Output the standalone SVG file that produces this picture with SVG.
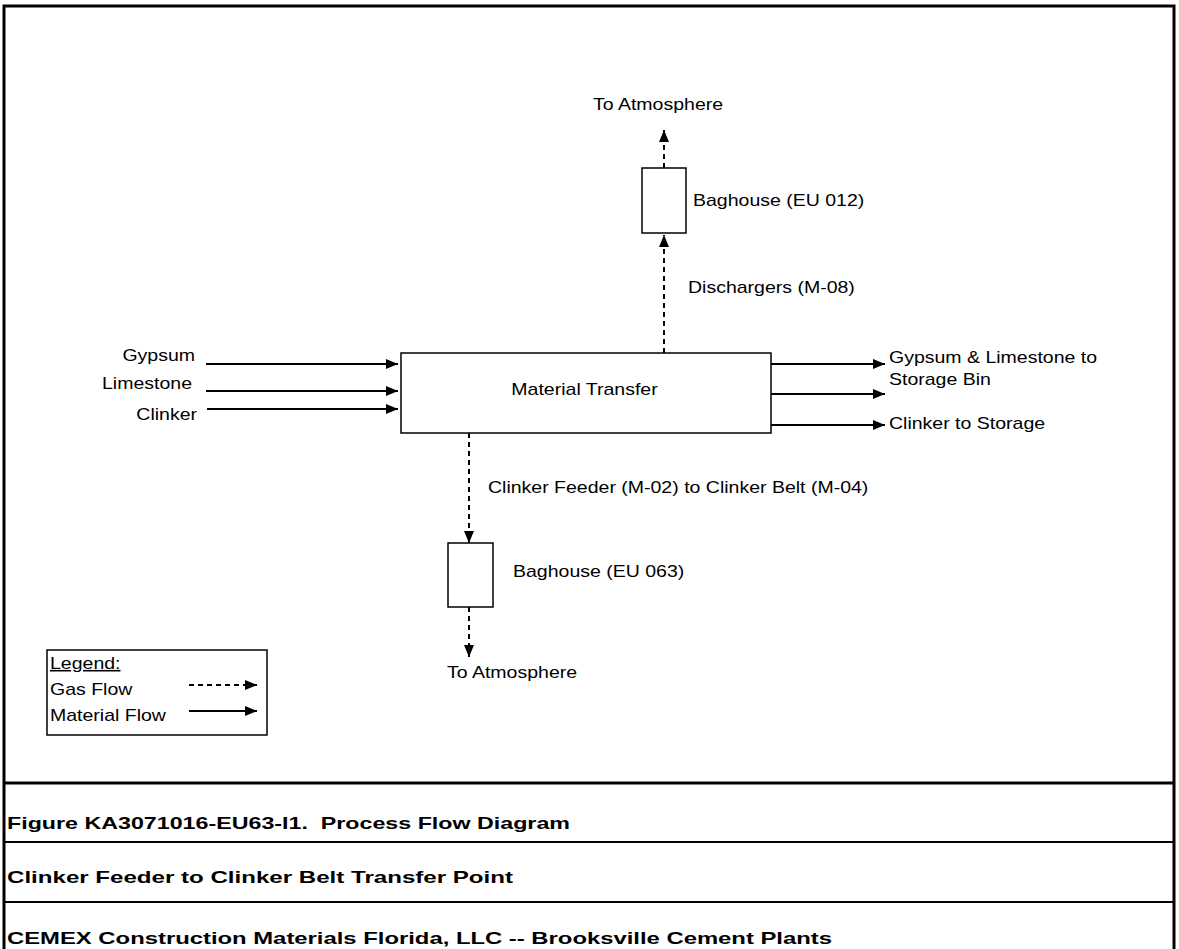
<svg xmlns="http://www.w3.org/2000/svg" width="1179" height="949" viewBox="0 0 1179 949">
<style>
text{font-family:"Liberation Sans",Arial,sans-serif;font-size:16px;fill:#000}
.ft{font-weight:bold;font-size:17px}
.box{fill:#fff;stroke:#000;stroke-width:1.5}
.solid{stroke:#000;stroke-width:2;fill:none}
.dash{stroke:#000;stroke-width:2;fill:none;stroke-dasharray:5,4}
</style>
<defs>
<marker id="ah" markerWidth="12" markerHeight="10" refX="12" refY="5" orient="auto" markerUnits="userSpaceOnUse">
<path d="M0,0 L12,5 L0,10 Z" fill="#000"/>
</marker>
</defs>
<rect width="1179" height="949" fill="#fff"/>
<g id="frame">
<rect x="4" y="6" width="1170" height="950" fill="none" stroke="#000" stroke-width="3"/>
<line x1="4" y1="783" x2="1174" y2="783" stroke="#000" stroke-width="3"/>
<line x1="4" y1="842" x2="1174" y2="842" stroke="#000" stroke-width="2"/>
<line x1="4" y1="902" x2="1174" y2="902" stroke="#000" stroke-width="2"/>
</g>
<g id="material-transfer">
<rect class="box" x="401" y="353" width="370" height="80"/>
<text transform="matrix(1.22 0 0 1 584.5 395)" text-anchor="middle">Material Transfer</text>
</g>
<g id="baghouse-012">
<rect class="box" x="642" y="168" width="44" height="65"/>
<text transform="matrix(1.22 0 0 1 693 206)">Baghouse (EU 012)</text>
</g>
<g id="baghouse-063">
<rect class="box" x="448" y="543" width="45" height="64"/>
<text transform="matrix(1.22 0 0 1 513 577)">Baghouse (EU 063)</text>
</g>
<g id="labels">
<text transform="matrix(1.22 0 0 1 593 110)">To Atmosphere</text>
<text transform="matrix(1.22 0 0 1 688 293)">Dischargers (M-08)</text>
<text transform="matrix(1.22 0 0 1 488 493)">Clinker Feeder (M-02) to Clinker Belt (M-04)</text>
<text transform="matrix(1.22 0 0 1 447 678)">To Atmosphere</text>
<text transform="matrix(1.22 0 0 1 195 361)" text-anchor="end">Gypsum</text>
<text transform="matrix(1.22 0 0 1 192 389)" text-anchor="end">Limestone</text>
<text transform="matrix(1.22 0 0 1 197 420)" text-anchor="end">Clinker</text>
<text transform="matrix(1.22 0 0 1 889 363)">Gypsum &amp; Limestone to</text>
<text transform="matrix(1.22 0 0 1 889 385)">Storage Bin</text>
<text transform="matrix(1.22 0 0 1 889 429)">Clinker to Storage</text>
</g>
<g id="connectors">
<line class="dash" x1="664" y1="168" x2="664" y2="130" marker-end="url(#ah)"/>
<line class="dash" x1="664" y1="353" x2="664" y2="235" marker-end="url(#ah)"/>
<line class="dash" x1="469" y1="433" x2="469" y2="543" marker-end="url(#ah)"/>
<line class="dash" x1="469" y1="607" x2="469" y2="657" marker-end="url(#ah)"/>
<line class="solid" x1="206" y1="364" x2="398" y2="364" marker-end="url(#ah)"/>
<line class="solid" x1="206" y1="391" x2="398" y2="391" marker-end="url(#ah)"/>
<line class="solid" x1="207" y1="409" x2="398" y2="409" marker-end="url(#ah)"/>
<line class="solid" x1="771" y1="364" x2="885" y2="364" marker-end="url(#ah)"/>
<line class="solid" x1="771" y1="394" x2="885" y2="394" marker-end="url(#ah)"/>
<line class="solid" x1="771" y1="425" x2="885" y2="425" marker-end="url(#ah)"/>
</g>
<g id="legend">
<rect x="47" y="650" width="220" height="85" fill="#fff" stroke="#000" stroke-width="1.5"/>
<text transform="matrix(1.22 0 0 1 50 669)" text-decoration="underline">Legend:</text>
<text transform="matrix(1.22 0 0 1 50 695)">Gas Flow</text>
<text transform="matrix(1.22 0 0 1 50 721)">Material Flow</text>
<line class="dash" x1="189" y1="685" x2="257" y2="685" marker-end="url(#ah)" stroke-dasharray="5,4"/>
<line class="solid" x1="189" y1="711" x2="257" y2="711" marker-end="url(#ah)"/>
</g>
<g id="footer">
<text class="ft" x="7" y="829" textLength="563" lengthAdjust="spacingAndGlyphs">Figure KA3071016-EU63-I1.&#160; Process Flow Diagram</text>
<text class="ft" x="7" y="883" textLength="506" lengthAdjust="spacingAndGlyphs">Clinker Feeder to Clinker Belt Transfer Point</text>
<text class="ft" x="7" y="944" textLength="825" lengthAdjust="spacingAndGlyphs">CEMEX Construction Materials Florida, LLC -- Brooksville Cement Plants</text>
</g>
</svg>
